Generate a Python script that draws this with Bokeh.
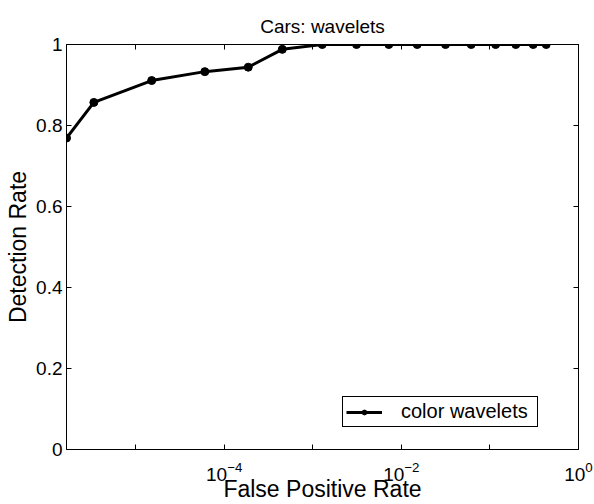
from bokeh.plotting import figure
from bokeh.models import (Range1d, FixedTicker, LogAxis, LinearAxis, Legend, LegendItem,
                          LogTickFormatter)
from bokeh.embed import file_html
from bokeh.resources import INLINE

# ---- data ----
false_positive_rate = [1.66e-6, 3.38e-6, 1.52e-5, 6.05e-5, 1.87e-4, 4.53e-4, 1.28e-3,
                       3.12e-3, 7.22e-3, 0.0151, 0.0315, 0.0615, 0.116, 0.196, 0.308, 0.432]
detection_rate = [0.769, 0.857, 0.911, 0.933, 0.944, 0.988, 1.0,
                  1.0, 1.0, 1.0, 1.0, 1.0, 1.0, 1.0, 1.0, 1.0]
series_name = "color wavelets"
x_major_ticks = [1e-4, 1e-2, 1.0]
x_minor_ticks = [1e-5, 1e-3, 1e-1]
y_ticks = [0, 0.2, 0.4, 0.6, 0.8, 1.0]
y_tick_labels = ["0", "0.2", "0.4", "0.6", "0.8", "1"]
title_text = "Cars: wavelets"
x_label = "False Positive Rate"
y_label = "Detection Rate"

FONT = "Liberation Sans"

p = figure(width=594, height=504, x_axis_type="log",
           x_range=Range1d(min(false_positive_rate), 1.0), y_range=Range1d(0, 1),
           output_backend="svg", toolbar_location=None,
           min_border_left=66, min_border_right=16, min_border_top=44, min_border_bottom=55,
           title=title_text)

p.title.text_font = FONT
p.title.text_font_size = "19px"
p.title.text_font_style = "normal"
p.title.align = "center"
p.title.text_color = "black"
p.title.standoff = 16

p.xgrid.visible = False
p.ygrid.visible = False
p.outline_line_color = "black"
p.outline_line_width = 1
p.outline_line_alpha = 1
p.background_fill_color = "white"
p.border_fill_color = "white"

def style_axis(ax, show_labels):
    ax.axis_line_color = "black"
    ax.major_tick_line_color = "black"
    ax.minor_tick_line_color = "black"
    ax.major_tick_in = 5
    ax.major_tick_out = 0
    ax.minor_tick_in = 5
    ax.minor_tick_out = 0
    ax.major_label_text_font = FONT
    ax.major_label_text_color = "black"
    ax.axis_label_text_font = FONT
    ax.axis_label_text_font_style = "normal"
    ax.axis_label_text_color = "black"
    if not show_labels:
        ax.major_label_text_font_size = "2px"
        ax.major_label_text_alpha = 0
        ax.major_label_standoff = 0

xt = FixedTicker(ticks=x_major_ticks, minor_ticks=x_minor_ticks)
yt = FixedTicker(ticks=y_ticks, minor_ticks=[])

xa = p.xaxis[0]
xa.ticker = xt
xa.formatter = LogTickFormatter()
style_axis(xa, True)
xa.major_label_text_font_size = "19px"
xa.major_label_standoff = 12
xa.axis_label = x_label
xa.axis_label_text_font_size = "23px"
xa.axis_label_standoff = -8

ya = p.yaxis[0]
ya.ticker = yt
ya.major_label_overrides = dict(zip(y_ticks, y_tick_labels))
style_axis(ya, True)
ya.major_label_text_font_size = "19px"
ya.major_label_standoff = 4
ya.axis_label = y_label
ya.axis_label_text_font_size = "23px"
ya.axis_label_standoff = 2

top = LogAxis(ticker=FixedTicker(ticks=x_major_ticks, minor_ticks=x_minor_ticks))
style_axis(top, False)
p.add_layout(top, "above")
right = LinearAxis(ticker=FixedTicker(ticks=y_ticks, minor_ticks=[]))
style_axis(right, False)
p.add_layout(right, "right")

ln = p.line(false_positive_rate, detection_rate, line_color="black", line_width=3)
mk = p.scatter(false_positive_rate, detection_rate, size=8, fill_color="black",
               line_color="black")

legend = Legend(items=[LegendItem(label=series_name, renderers=[ln, mk])],
                location=(276, 22), padding=3, margin=0, glyph_width=36,
                glyph_height=12, label_height=12, label_width=133,
                label_standoff=19, label_text_font=FONT, label_text_font_size="20px",
                label_text_color="black", border_line_color="black", border_line_width=1,
                border_line_alpha=1, background_fill_color="white", background_fill_alpha=1)
p.add_layout(legend, "center")

open("out.html", "w").write(file_html(p, INLINE))
